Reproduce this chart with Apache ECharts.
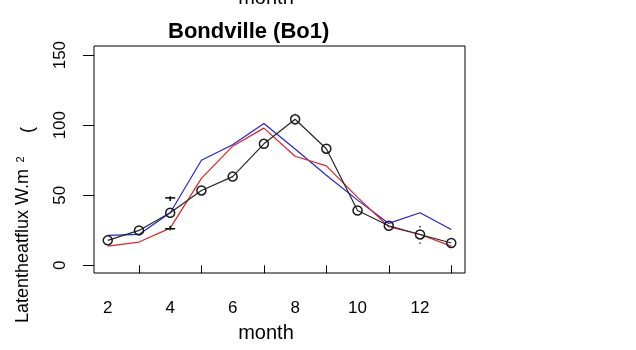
<!DOCTYPE html>
<html><head><meta charset="utf-8">
<script src="https://cdn.jsdelivr.net/npm/echarts@6/dist/echarts.min.js"></script>
<style>html,body{margin:0;padding:0;background:#fff}#c{width:636px;height:350px}</style>
</head><body><div id="c"></div>
<script>
const months = [1,2,3,4,5,6,7,8,9,10,11,12];
const obsValues  = [17.8, 24.9, 37.5, 53.4, 63.3, 86.7, 104.2, 83.2, 39.1, 28.2, 22.0, 15.9];
const blueValues = [21.3, 22.0, 37.5, 75.0, 86.0, 101.2, 83.0, 64.3, 46.5, 29.9, 37.5, 25.6];
const redValues  = [13.7, 16.6, 26.5, 62.0, 85.0, 97.9, 77.8, 71.0, 48.5, 27.5, 22.0, 13.7];
const errMonths = [3, 7, 11];
const errLow  = [26.1, 101.5, 16.6];
const errHigh = [48.1, 107.0, 26.8];
const xTickValues = [2,4,6,8,10,12];
const xLabelPositions = [1,3,5,7,9,11];
const yTickValues = [0,50,100,150];

const FONT = 'Liberation Sans';
const chart = echarts.init(document.getElementById('c'), null, {renderer:'canvas'});
const pairs = (ys) => months.map((m,i)=>[m, ys[i]]);

chart.setOption({
  animation:false,
  backgroundColor:'#fff',
  title:{text:'Bondville (Bo1)', left:168, top:21, padding:0,
    textStyle:{fontFamily:FONT, fontWeight:'bold', fontSize:22, color:'#000'}},
  grid:{left:94, right:171, top:46, bottom:77, show:true, borderColor:'#000', borderWidth:1, backgroundColor:'transparent'},
  xAxis:{type:'value', min:0.56, max:12.44,
    axisLine:{show:false},
    splitLine:{show:false},
    axisTick:{show:true, customValues:xTickValues, length:8, lineStyle:{color:'#000'}},
    axisLabel:{show:true, customValues:xLabelPositions, formatter:(v)=>String(v+1), margin:27,
      fontFamily:FONT, fontSize:17, color:'#000'}
  },
  yAxis:{type:'value', min:-5.5, max:156.5,
    axisLine:{show:false},
    splitLine:{show:false},
    axisTick:{show:true, customValues:yTickValues, length:11, lineStyle:{color:'#000'}},
    axisLabel:{show:true, customValues:yTickValues, rotate:90, margin:25,
      fontFamily:FONT, fontSize:17, color:'#000'}
  },
  graphic:[
    {type:'text', x:266, y:-2, style:{text:'month', align:'center', verticalAlign:'middle', font:'20px "Liberation Sans"', fill:'#000'}},
    {type:'text', x:266, y:333, style:{text:'month', align:'center', verticalAlign:'middle', font:'20px "Liberation Sans"', fill:'#000'}},
    {type:'text', rotation:Math.PI/2, x:32, y:246, style:{text:'Latentheatflux W.m', align:'center', verticalAlign:'bottom', font:'18px "Liberation Sans"', fill:'#000'}},
    {type:'text', rotation:Math.PI/2, x:20.5, y:159.5, style:{text:'2', align:'center', verticalAlign:'middle', font:'11px "Liberation Sans"', fill:'#000'}},
    {type:'text', rotation:Math.PI/2, x:28, y:130, style:{text:'(', align:'center', verticalAlign:'middle', font:'18px "Liberation Sans"', fill:'#000'}}
  ],
  series:[
    {type:'line', data:pairs(blueValues), symbol:'none', lineStyle:{color:'#2323e0', width:1.2}, z:2},
    {type:'line', data:pairs(redValues), symbol:'none', lineStyle:{color:'#e02323', width:1.2}, z:3},
    {type:'line', data:pairs(obsValues), symbol:'circle', symbolSize:9,
      itemStyle:{color:'transparent', borderColor:'#1a1a1a', borderWidth:1.5},
      lineStyle:{color:'#262626', width:1.2}, z:4},
    {type:'custom', z:5, data:errMonths.map((m,i)=>[m, errLow[i], errHigh[i]]),
      renderItem:(params, api)=>{
        const lo = api.coord([api.value(0), api.value(1)]);
        const hi = api.coord([api.value(0), api.value(2)]);
        const children = [
          {type:'circle', shape:{cx:lo[0], cy:lo[1]+1, r:0.9}, style:{fill:'#444'}},
          {type:'circle', shape:{cx:hi[0], cy:hi[1]-1, r:0.9}, style:{fill:'#444'}}
        ];
        if (lo[1]-hi[1] > 20) {
          const w = 5;
          children.push({type:'line', shape:{x1:hi[0]-w, y1:hi[1], x2:hi[0]+w, y2:hi[1]}, style:{stroke:'#000', lineWidth:1.5}});
          children.push({type:'line', shape:{x1:hi[0], y1:hi[1], x2:hi[0], y2:hi[1]+3}, style:{stroke:'#000', lineWidth:1.5}});
          children.push({type:'line', shape:{x1:lo[0]-w, y1:lo[1], x2:lo[0]+w, y2:lo[1]}, style:{stroke:'#000', lineWidth:1.5}});
          children.push({type:'line', shape:{x1:lo[0], y1:lo[1], x2:lo[0], y2:lo[1]-3}, style:{stroke:'#000', lineWidth:1.5}});
        }
        return {type:'group', children};
      }}
  ]
});
</script></body></html>
